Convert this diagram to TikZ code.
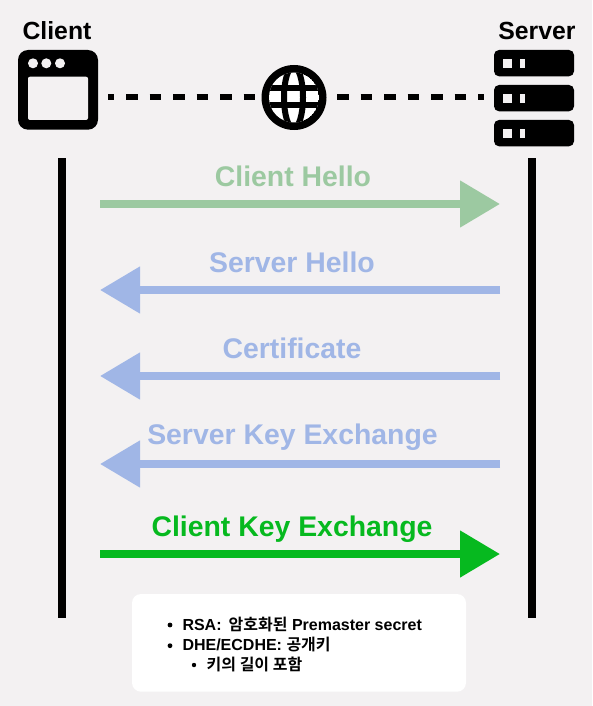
\documentclass[tikz,border=0pt]{standalone}
\usepackage{fontspec}
\usetikzlibrary{arrows.meta}
\setmainfont{Liberation Sans}
\newfontfamily\cjkfont{Noto Sans CJK KR}[BoldFont={* Bold}]
\definecolor{bgc}{HTML}{F3F1F2}
\definecolor{greenl}{HTML}{9CC9A1}
\definecolor{bluel}{HTML}{A0B6E6}
\definecolor{greend}{HTML}{06B91F}
\tikzset{
  lifeline/.style={line width=8pt,black},
  flow/.style={line width=8pt,-{Triangle[length=40pt,width=45pt]}},
  msg/.style={font=\fontsize{28.4}{32}\selectfont\bfseries,anchor=base},
  head/.style={font=\fontsize{24.8}{28}\selectfont\bfseries,text=black,anchor=base},
  netlink/.style={line width=6pt,black,dash pattern=on 11.8pt off 11.7pt},
  noteline/.style={font=\fontsize{16}{18}\selectfont\bfseries,anchor=base west,inner sep=0pt},
}
\begin{document}
\begin{tikzpicture}[x=1pt,y=-1pt]
\useasboundingbox (0,0) rectangle (592,706);
\fill[bgc] (0,0) rectangle (592,706);
% labels
\node[head] (clientlabel) at (57,40) {Client};
\node[head] (serverlabel) at (537,40) {Server};
% network link
\coordinate (linkL) at (108,97);
\coordinate (linkLe) at (255,97);
\coordinate (linkRs) at (337,97);
\coordinate (linkR) at (484,97);
\coordinate (globeC) at (294,97.5);
\draw[netlink,dash phase=5.5pt] (linkL) -- (linkLe);
\draw[netlink] (linkRs) -- (linkR);
% client icon
\fill[black,rounded corners=10pt] (18,50) rectangle (98,129.7);
\fill[bgc,rounded corners=2pt] (28,76.7) rectangle (88,120);
\foreach \x in {33,46.3,60} \fill[bgc] (\x,63.3) circle (5);
% globe
\fill[black] (globeC) circle (32.5);
\begin{scope}
\clip (globeC) circle (25);
\fill[white] (globeC) circle (25);
\draw[black,line width=6pt] (255,87.7) -- (333,87.7);
\draw[black,line width=6pt] (255,105.5) -- (333,105.5);
\draw[black,line width=6pt] (293.5,97.5) ellipse (9.5 and 31);
\end{scope}
% server icon
\foreach \y in {50,85,120}{
  \fill[black,rounded corners=5pt] (494,\y) rectangle (574,\y+26.3);
  \fill[bgc] (502.7,\y+8.7) rectangle (512,\y+18);
  \fill[bgc] (520.3,\y+8.7) rectangle (525,\y+18);
}
% lifelines
\coordinate (cTop) at (62,158);
\coordinate (cBot) at (62,618);
\coordinate (sTop) at (532,158);
\coordinate (sBot) at (532,618);
\draw[lifeline] (cTop) -- (cBot);
\draw[lifeline] (sTop) -- (sBot);
% arrows
\coordinate (a1L) at (100,204); \coordinate (a1R) at (500,204);
\coordinate (a2L) at (100,290); \coordinate (a2R) at (500,290);
\coordinate (a3L) at (100,376); \coordinate (a3R) at (500,376);
\coordinate (a4L) at (100,464); \coordinate (a4R) at (500,464);
\coordinate (a5L) at (100,554); \coordinate (a5R) at (500,554);
\draw[flow,greenl] (a1L) -- (a1R);
\draw[flow,bluel] (a2R) -- (a2L);
\draw[flow,bluel] (a3R) -- (a3L);
\draw[flow,bluel] (a4R) -- (a4L);
\draw[flow,greend] (a5L) -- (a5R);
\node[msg,text=greenl] (m1) at (293,186) {Client Hello};
\node[msg,text=bluel] (m2) at (292,272) {Server Hello};
\node[msg,text=bluel] (m3) at (292,358) {Certificate};
\node[msg,text=bluel] (m4) at (292.5,444) {Server Key Exchange};
\node[msg,text=greend] (m5) at (292,536) {Client Key Exchange};
% note
\fill[white,rounded corners=9pt] (132,594) rectangle (466,691.7);
\fill[black] (170,625) circle (2.4);
\fill[black] (170,645.7) circle (2.4);
\fill[black] (194,665) circle (2.2);
\node[noteline] (n1) at (182.3,630) {RSA:\, {\cjkfont\bfseries 암호화된} Premaster secret};
\node[noteline] (n2) at (182.3,650.5) {DHE/ECDHE: {\cjkfont\bfseries 공개키}};
\node[noteline] (n3) at (206.5,670) {\cjkfont\bfseries 키의 길이 포함};
\end{tikzpicture}
\end{document}
